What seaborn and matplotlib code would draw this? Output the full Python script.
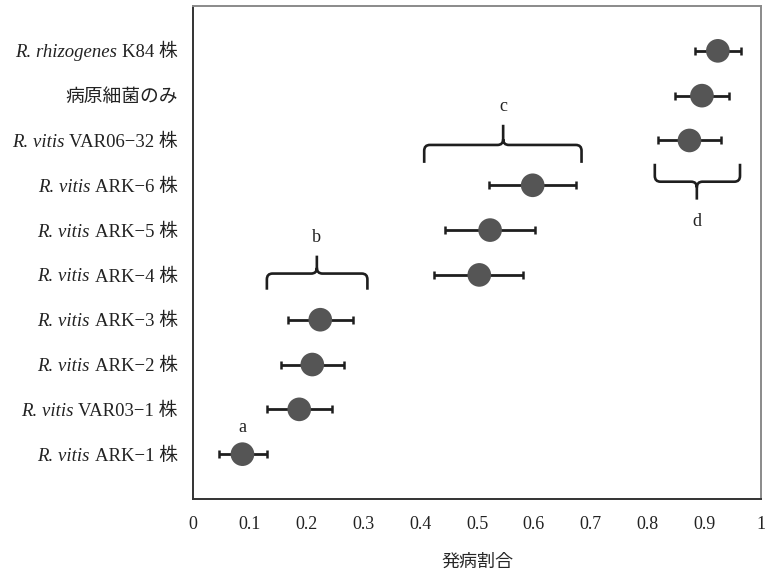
import numpy as np
import pandas as pd
import matplotlib
matplotlib.use("Agg")
import matplotlib.pyplot as plt
from matplotlib.path import Path
from matplotlib.patches import PathPatch
import seaborn as sns

# ---- data (bottom to top) ----
species = ["R. vitis", "R. vitis", "R. vitis", "R. vitis", "R. vitis",
           "R. vitis", "R. vitis", "R. vitis", "", "R. rhizogenes"]
strain = ["ARK\u22121 株", "VAR03\u22121 株", "ARK\u22122 株", "ARK\u22123 株", "ARK\u22124 株",
          "ARK\u22125 株", "ARK\u22126 株", "VAR06\u221232 株", "病原細菌のみ", "K84 株"]
rate = [0.087, 0.187, 0.210, 0.224, 0.504, 0.523, 0.598, 0.874, 0.896, 0.924]
low = [0.046, 0.130, 0.155, 0.167, 0.425, 0.444, 0.521, 0.819, 0.849, 0.883]
high = [0.130, 0.245, 0.266, 0.281, 0.581, 0.602, 0.674, 0.929, 0.944, 0.965]
xticks = [0, 0.1, 0.2, 0.3, 0.4, 0.5, 0.6, 0.7, 0.8, 0.9, 1]
xticklabels = ["0", "0.1", "0.2", "0.3", "0.4", "0.5", "0.6", "0.7", "0.8", "0.9", "1"]
xlabel = "発病割合"

# significance groups: letter, x-left, x-right, x-tip, y-end, y-bar, y-tip, label-y
grp_letter = ["b", "c", "d"]
grp_x0 = [0.130, 0.407, 0.813]
grp_x1 = [0.307, 0.684, 0.963]
grp_xm = [0.218, 0.546, 0.887]
grp_yend = [3.67, 6.50, 6.48]
grp_ybar = [4.03, 6.90, 6.08]
grp_ytip = [4.43, 7.35, 5.68]
grp_ylab = [4.83, 7.75, 5.19]
single_letter = "a"
single_x = 0.087
single_y = 0.60

categories = [f"{s} {t}".strip() for s, t in zip(species, strain)]
df = pd.DataFrame({"cat": categories, "rate": rate, "low": low, "high": high})

sns.set_theme(style="white")
serif = ["Liberation Serif", "Noto Sans CJK JP", "DejaVu Sans"]
plt.rcParams["font.family"] = serif

fig = plt.figure(figsize=(7.66, 5.74), dpi=100)
ax = fig.add_axes([0.252, 0.1307, 0.7415, 0.8588])

pos = np.arange(len(categories))
xerr = np.array([df["rate"] - df["low"], df["high"] - df["rate"]])
ax.errorbar(df["rate"], pos, xerr=xerr, fmt="none", ecolor="#1e1e1e",
            elinewidth=2.0, capsize=2.8, capthick=1.8, zorder=2)
sns.scatterplot(x=df["rate"], y=pos, ax=ax, s=290, color="#555555",
                edgecolor="none", linewidth=0, zorder=3, legend=False)

ax.set_xlim(0, 1)
ax.set_ylim(-1, 10)
ax.set_xticks(xticks, labels=xticklabels)
ax.set_yticks(pos, labels=strain)
ax.set_xlabel(xlabel, fontsize=13, labelpad=15)
ax.set_ylabel("")

ax.tick_params(axis="x", direction="in", length=5, width=1, colors="#333333",
               labelsize=13, pad=12, labelcolor="#222222")
ax.tick_params(axis="y", direction="out", length=5, width=1, colors="#333333",
               labelsize=13.5, pad=6, labelcolor="#222222")

for side in ["left", "bottom"]:
    ax.spines[side].set_color("#333333")
    ax.spines[side].set_linewidth(1.4)
for side in ["top", "right"]:
    ax.spines[side].set_color("#8a8a8a")
    ax.spines[side].set_linewidth(1.4)

# italic species names in front of tick labels
fig.canvas.draw()
for lab, sp in zip(ax.get_yticklabels(), species):
    if sp:
        ax.annotate(sp, xy=(0, 0.5), xycoords=lab, xytext=(-3.5, 0),
                    textcoords="offset points", ha="right", va="center",
                    fontsize=13.5, fontstyle="italic", color="#222222",
                    family=serif, annotation_clip=False)

# braces
def brace(x0, x1, xm, yend, ybar, ytip):
    s = 1 if ytip > ybar else -1
    dx, dy = 0.010, 0.13
    verts = [(x0, yend), (x0, ybar - s * dy), (x0, ybar), (x0 + dx, ybar),
             (xm - dx, ybar), (xm, ybar), (xm, ybar + s * dy), (xm, ytip),
             (xm, ybar + s * dy), (xm, ybar), (xm + dx, ybar),
             (x1 - dx, ybar), (x1, ybar), (x1, ybar - s * dy), (x1, yend)]
    codes = [Path.MOVETO, Path.LINETO, Path.CURVE3, Path.CURVE3,
             Path.LINETO, Path.CURVE3, Path.CURVE3, Path.LINETO,
             Path.MOVETO, Path.CURVE3, Path.CURVE3,
             Path.LINETO, Path.CURVE3, Path.CURVE3, Path.LINETO]
    ax.add_patch(PathPatch(Path(verts, codes), facecolor="none",
                           edgecolor="#1e1e1e", linewidth=1.9,
                           capstyle="butt", zorder=2))

for L, a0, a1, am, ye, yb, yt, yl in zip(grp_letter, grp_x0, grp_x1, grp_xm,
                                         grp_yend, grp_ybar, grp_ytip, grp_ylab):
    brace(a0, a1, am, ye, yb, yt)
    ax.text(am, yl, L, ha="center", va="center", fontsize=13, color="#222222")

ax.text(single_x, single_y, single_letter, ha="center", va="center",
        fontsize=13, color="#222222")

fig.savefig("out.png", dpi=100)
